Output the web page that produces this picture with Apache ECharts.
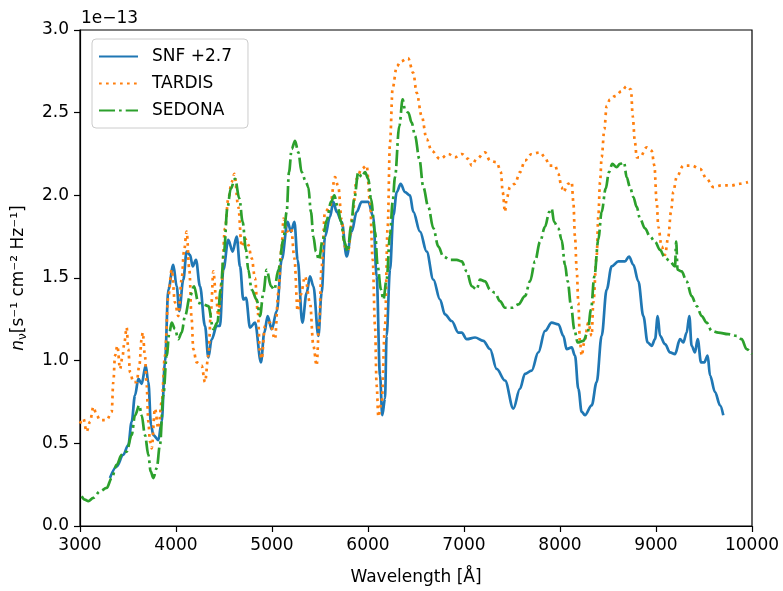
<!DOCTYPE html>
<html>
<head>
<meta charset="utf-8">
<script src="https://cdn.jsdelivr.net/npm/echarts@6/dist/echarts.min.js"></script>
<style>
  html, body { margin: 0; padding: 0; background: #fff; }
  #chart { width: 783px; height: 591px; }
</style>
</head>
<body>
<div id="chart"></div>
<script>
// spectra, flux in units of 1e-13
var snfWave = [3312, 3382, 3450, 3503, 3538, 3573, 3608, 3642, 3684, 3712, 3740, 3764, 3816, 3851, 3885, 3920, 3972, 4007, 4034, 4076,
  4111, 4146, 4174, 4208, 4250, 4302, 4337, 4372, 4424, 4458, 4493, 4545, 4590, 4632, 4667, 4701, 4729, 4771, 4823, 4885,
  4920, 4955, 4997, 5049, 5101, 5163, 5198, 5233, 5267, 5316, 5361, 5396, 5431, 5483, 5517, 5552, 5604, 5639, 5674, 5726,
  5778, 5830, 5882, 5934, 6003, 6055, 6090, 6125, 6149, 6177, 6194, 6229, 6264, 6300, 6340, 6385, 6437, 6472, 6542, 6611,
  6681, 6750, 6802, 6872, 6941, 6976, 7028, 7115, 7201, 7271, 7340, 7427, 7514, 7583, 7635, 7705, 7774, 7844, 7913, 7983,
  8035, 8069, 8122, 8156, 8191, 8226, 8260, 8330, 8382, 8434, 8486, 8538, 8608, 8677, 8719, 8764, 8816, 8868, 8913, 8955,
  8990, 9018, 9042, 9094, 9146, 9198, 9250, 9285, 9319, 9347, 9371, 9406, 9434, 9469, 9503, 9538, 9563, 9615, 9667, 9701];
var snfFlux = [0.29, 0.36, 0.43, 0.49, 0.63, 0.79, 0.89, 0.86, 0.97, 0.87, 0.61, 0.55, 0.52, 0.63, 0.99, 1.43, 1.58, 1.45, 1.30, 1.49,
  1.66, 1.64, 1.57, 1.61, 1.45, 1.21, 1.02, 1.13, 1.21, 1.21, 1.55, 1.73, 1.66, 1.75, 1.57, 1.37, 1.38, 1.20, 1.23, 0.99,
  1.17, 1.27, 1.19, 1.30, 1.61, 1.84, 1.78, 1.84, 1.61, 1.23, 1.41, 1.51, 1.45, 1.15, 1.41, 1.75, 1.87, 1.96, 1.90, 1.84,
  1.63, 1.78, 1.90, 1.96, 1.96, 1.87, 1.51, 0.91, 0.67, 0.77, 1.15, 1.55, 1.88, 2.02, 2.07, 2.02, 2.00, 1.90, 1.78, 1.66,
  1.49, 1.37, 1.28, 1.24, 1.17, 1.17, 1.13, 1.14, 1.12, 1.07, 0.95, 0.88, 0.71, 0.83, 0.92, 0.94, 1.05, 1.18, 1.23, 1.22,
  1.15, 1.07, 1.08, 1.03, 0.83, 0.69, 0.67, 0.73, 0.87, 1.15, 1.43, 1.57, 1.60, 1.60, 1.63, 1.58, 1.48, 1.27, 1.11, 1.09,
  1.13, 1.27, 1.15, 1.10, 1.05, 1.04, 1.13, 1.11, 1.17, 1.27, 1.09, 1.05, 1.13, 0.99, 0.99, 1.03, 0.91, 0.81, 0.73, 0.67];

var tardisWave = [3000, 3035, 3069, 3104, 3139, 3174, 3208, 3278, 3330, 3347, 3365, 3389, 3417, 3444, 3462, 3486, 3503, 3521, 3556, 3590,
  3618, 3642, 3653, 3677, 3694, 3712, 3729, 3747, 3781, 3816, 3851, 3885, 3920, 3955, 3990, 4024, 4059, 4083, 4111, 4139,
  4163, 4180, 4215, 4267, 4302, 4337, 4365, 4389, 4417, 4441, 4476, 4510, 4545, 4580, 4608, 4649, 4684, 4719, 4753, 4788,
  4823, 4851, 4875, 4892, 4927, 4979, 5031, 5066, 5101, 5120, 5153, 5200, 5233, 5267, 5300, 5344, 5396, 5431, 5465, 5490,
  5517, 5552, 5604, 5656, 5691, 5726, 5760, 5795, 5837, 5882, 5934, 5986, 6021, 6049, 6073, 6090, 6108, 6142, 6177, 6205,
  6229, 6257, 6300, 6340, 6417, 6472, 6507, 6559, 6611, 6663, 6750, 6837, 6906, 6976, 7045, 7080, 7132, 7219, 7271, 7340,
  7385, 7403, 7427, 7444, 7479, 7531, 7583, 7635, 7705, 7792, 7844, 7889, 7948, 7983, 8017, 8035, 8087, 8122, 8139, 8156,
  8174, 8191, 8208, 8226, 8253, 8295, 8330, 8347, 8382, 8399, 8417, 8434, 8462, 8486, 8521, 8573, 8642, 8694, 8740, 8757,
  8781, 8799, 8833, 8903, 8955, 8983, 9007, 9024, 9059, 9094, 9128, 9156, 9180, 9215, 9285, 9371, 9458, 9528, 9597, 9684,
  9788, 9875, 9958];
var tardisFlux = [0.62, 0.65, 0.57, 0.63, 0.72, 0.67, 0.64, 0.64, 0.69, 0.87, 1.03, 1.09, 0.95, 1.03, 1.11, 1.20, 1.07, 0.93, 0.87, 0.87,
  0.97, 1.13, 1.17, 1.03, 0.85, 0.63, 0.51, 0.47, 0.71, 0.59, 0.75, 1.03, 1.39, 1.55, 1.35, 1.27, 1.49, 1.66, 1.78, 1.55,
  1.25, 1.07, 0.99, 0.97, 0.87, 1.03, 1.31, 1.54, 1.39, 1.27, 1.48, 1.80, 1.98, 2.08, 2.13, 1.93, 1.69, 1.74, 1.70, 1.62,
  1.50, 1.30, 1.05, 1.01, 1.21, 1.23, 1.13, 1.41, 1.69, 1.86, 1.78, 1.80, 1.62, 1.30, 1.40, 1.51, 1.35, 1.09, 0.97, 1.21,
  1.57, 1.90, 1.93, 2.11, 2.05, 1.85, 1.69, 1.67, 1.87, 2.10, 2.16, 2.18, 1.96, 1.61, 1.21, 0.85, 0.66, 0.75, 1.21, 1.81,
  2.32, 2.65, 2.78, 2.81, 2.83, 2.74, 2.62, 2.48, 2.34, 2.27, 2.22, 2.25, 2.23, 2.25, 2.22, 2.18, 2.22, 2.26, 2.21, 2.20,
  2.14, 2.02, 1.90, 1.98, 2.05, 2.07, 2.14, 2.21, 2.25, 2.26, 2.23, 2.18, 2.18, 2.13, 2.05, 2.02, 2.07, 2.08, 1.96, 1.75,
  1.55, 1.35, 1.11, 1.03, 1.11, 1.23, 1.15, 1.35, 1.63, 1.87, 2.08, 2.23, 2.40, 2.54, 2.58, 2.60, 2.63, 2.66, 2.64, 2.48,
  2.32, 2.23, 2.23, 2.29, 2.27, 2.18, 1.96, 1.81, 1.69, 1.64, 1.75, 1.90, 2.02, 2.11, 2.18, 2.18, 2.16, 2.10, 2.05, 2.06,
  2.06, 2.07, 2.08];

var sedonaWave = [3017, 3050, 3087, 3139, 3208, 3278, 3330, 3382, 3434, 3486, 3538, 3573, 3618, 3642, 3677, 3712, 3736, 3764, 3799, 3833,
  3868, 3903, 3931, 3955, 3990, 4024, 4059, 4094, 4146, 4188, 4233, 4285, 4337, 4389, 4431, 4465, 4500, 4535, 4570, 4615,
  4660, 4694, 4729, 4753, 4788, 4840, 4875, 4910, 4944, 4990, 5024, 5066, 5118, 5153, 5177, 5205, 5240, 5274, 5309, 5354,
  5378, 5406, 5431, 5458, 5490, 5524, 5570, 5615, 5649, 5684, 5719, 5753, 5788, 5823, 5857, 5899, 5934, 5969, 6003, 6031,
  6073, 6101, 6135, 6160, 6194, 6229, 6257, 6281, 6326, 6361, 6385, 6420, 6455, 6490, 6535, 6576, 6628, 6681, 6733, 6785,
  6854, 6924, 6976, 7028, 7080, 7132, 7167, 7219, 7271, 7323, 7375, 7427, 7496, 7566, 7635, 7688, 7740, 7792, 7844, 7889,
  7913, 7938, 7983, 8017, 8052, 8080, 8115, 8149, 8184, 8243, 8288, 8323, 8358, 8399, 8434, 8476, 8510, 8545, 8590, 8625,
  8667, 8694, 8729, 8764, 8799, 8833, 8885, 8938, 8990, 9042, 9087, 9146, 9198, 9210, 9225, 9267, 9319, 9371, 9424, 9476,
  9528, 9580, 9649, 9753, 9840, 9892, 9944, 10000];
var sedonaFlux = [0.18, 0.16, 0.15, 0.17, 0.21, 0.23, 0.29, 0.37, 0.43, 0.45, 0.55, 0.67, 0.73, 0.67, 0.55, 0.43, 0.33, 0.29, 0.35, 0.49,
  0.79, 1.03, 1.17, 1.23, 1.19, 1.13, 1.17, 1.27, 1.39, 1.45, 1.35, 1.34, 1.33, 1.19, 1.23, 1.43, 1.66, 1.92, 2.04, 2.10,
  1.98, 1.84, 1.67, 1.55, 1.43, 1.37, 1.27, 1.41, 1.55, 1.45, 1.43, 1.55, 1.73, 1.90, 2.14, 2.28, 2.33, 2.26, 2.14, 2.08,
  2.05, 1.90, 1.75, 1.66, 1.61, 1.72, 1.85, 1.96, 2.00, 1.93, 1.84, 1.72, 1.66, 1.81, 1.98, 2.14, 2.11, 2.14, 2.10, 1.98,
  1.78, 1.57, 1.43, 1.37, 1.49, 1.76, 1.96, 2.11, 2.42, 2.58, 2.52, 2.50, 2.44, 2.36, 2.22, 2.05, 1.93, 1.80, 1.69, 1.63,
  1.61, 1.61, 1.60, 1.54, 1.45, 1.43, 1.49, 1.48, 1.43, 1.41, 1.36, 1.32, 1.32, 1.34, 1.39, 1.48, 1.60, 1.72, 1.81, 1.90,
  1.92, 1.84, 1.80, 1.73, 1.58, 1.48, 1.33, 1.19, 1.11, 1.12, 1.17, 1.31, 1.51, 1.73, 1.90, 2.04, 2.14, 2.19, 2.17, 2.19,
  2.20, 2.11, 2.05, 1.99, 1.93, 1.86, 1.80, 1.75, 1.72, 1.67, 1.63, 1.60, 1.57, 1.72, 1.55, 1.54, 1.48, 1.39, 1.33, 1.27,
  1.23, 1.18, 1.17, 1.16, 1.15, 1.13, 1.07, 1.04];

var xTicks = [3000, 4000, 5000, 6000, 7000, 8000, 9000, 10000];
var yTicks = [0.0, 0.5, 1.0, 1.5, 2.0, 2.5, 3.0];

function pairs(xs, ys) {
  return xs.map(function (x, i) { return [x, ys[i]]; });
}

var font = 'DejaVu Sans';
var chart = echarts.init(document.getElementById('chart'), null, { renderer: 'canvas' });

var option = {
  animation: false,
  backgroundColor: '#ffffff',
  textStyle: { fontFamily: font },
  grid: {
    left: 80, right: 31, top: 30, bottom: 63,
    show: true, borderColor: '#000', borderWidth: 1.2
  },
  legend: {
    orient: 'vertical',
    left: 92, top: 39,
    itemWidth: 39, itemHeight: 17, itemGap: 10,
    padding: [9, 16, 9, 6],
    borderColor: '#cccccc', borderWidth: 1, borderRadius: 4,
    backgroundColor: 'rgba(255,255,255,0.8)',
    itemStyle: { opacity: 0 },
    textStyle: { fontFamily: font, fontSize: 17, color: '#000', padding: [0, 0, 0, 9] },
    data: ['SNF +2.7', 'TARDIS', 'SEDONA']
  },
  xAxis: {
    type: 'value',
    min: xTicks[0], max: xTicks[xTicks.length - 1], interval: 1000,
    name: 'Wavelength [Å]',
    nameLocation: 'middle', nameGap: 43,
    nameTextStyle: { fontFamily: font, fontSize: 17, color: '#000' },
    axisLine: { show: true, lineStyle: { color: '#000', width: 1.2 } },
    axisTick: { show: true, length: 6, lineStyle: { color: '#000', width: 1.2 } },
    axisLabel: {
      fontFamily: font, fontSize: 17, color: '#000', margin: 11,
      formatter: function (v) { return String(v); }
    },
    splitLine: { show: false }
  },
  yAxis: {
    type: 'value',
    min: yTicks[0], max: yTicks[yTicks.length - 1], interval: 0.5,
    name: '{it|n}{sub|ν}{rm|[s⁻¹ cm⁻² Hz⁻¹]}',
    nameLocation: 'middle', nameGap: 51, nameRotate: 90,
    nameTextStyle: {
      fontFamily: font, fontSize: 17, color: '#000',
      rich: {
        it: { fontFamily: font, fontSize: 17, fontStyle: 'italic', color: '#000', lineHeight: 20 },
        sub: { fontFamily: font, fontSize: 12, color: '#000', verticalAlign: 'bottom', lineHeight: 20, padding: [6, 0, 0, 0] },
        rm: { fontFamily: font, fontSize: 17, color: '#000', lineHeight: 20 }
      }
    },
    axisLine: { show: true, lineStyle: { color: '#000', width: 1.2 } },
    axisTick: { show: true, length: 6, lineStyle: { color: '#000', width: 1.2 } },
    axisLabel: {
      fontFamily: font, fontSize: 17, color: '#000', margin: 11,
      formatter: function (v) { return v.toFixed(1); }
    },
    splitLine: { show: false }
  },
  graphic: [{
    type: 'text', left: 81, top: 10,
    style: { text: '1e−13', fontFamily: font, fontSize: 17, fill: '#000' }
  }],
  series: [
    {
      name: 'SNF +2.7', type: 'line', data: pairs(snfWave, snfFlux),
      symbol: 'none', smooth: 0.35, smoothMonotone: 'x',
      lineStyle: { color: '#1f77b4', width: 2.7 },
      itemStyle: { color: '#1f77b4' }
    },
    {
      name: 'TARDIS', type: 'line', data: pairs(tardisWave, tardisFlux),
      symbol: 'none', smooth: 0.35, smoothMonotone: 'x',
      lineStyle: { color: '#ff7f0e', width: 2.7, type: [2.7, 4.3] },
      itemStyle: { color: '#ff7f0e' }
    },
    {
      name: 'SEDONA', type: 'line', data: pairs(sedonaWave, sedonaFlux),
      symbol: 'none', smooth: 0.35, smoothMonotone: 'x',
      lineStyle: { color: '#2ca02c', width: 2.7, type: [16, 4, 2.7, 4] },
      itemStyle: { color: '#2ca02c' }
    }
  ]
};

chart.setOption(option);
</script>
</body>
</html>
